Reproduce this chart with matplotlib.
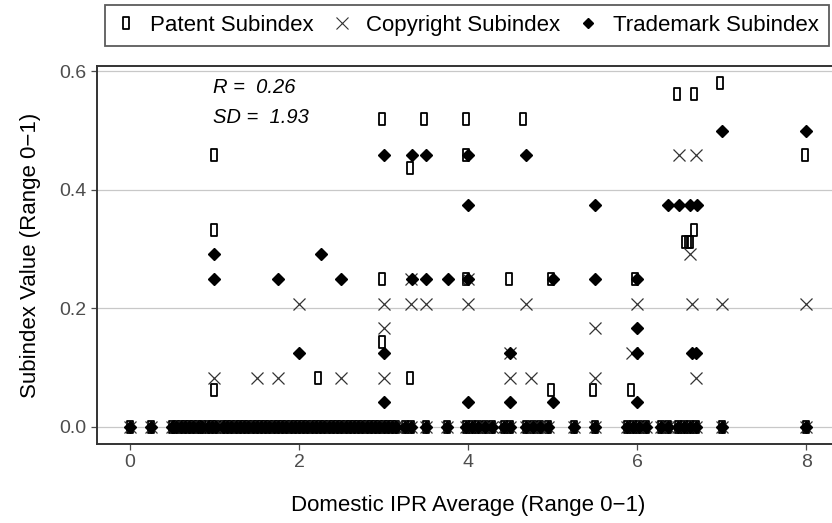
import matplotlib
matplotlib.use("Agg")
import matplotlib.pyplot as plt
from matplotlib.path import Path
from matplotlib.lines import Line2D

plt.rcParams["font.family"] = ["Liberation Sans", "DejaVu Sans"]

# =====================================================
# DATA
# =====================================================

# countries sitting at zero on all three subindices
zero_x = [0.0, 0.25, 0.5, 0.55, 0.6, 0.65, 0.7, 0.75, 0.8, 0.85, 0.92, 0.97,
          1.02, 1.1, 1.15, 1.2, 1.25, 1.3, 1.35, 1.4, 1.45, 1.5, 1.55, 1.6,
          1.65, 1.7, 1.75, 1.8, 1.85, 1.9, 1.95, 2.0, 2.05, 2.1, 2.15, 2.2,
          2.25, 2.3, 2.35, 2.4, 2.45, 2.5, 2.55, 2.6, 2.65, 2.7, 2.75, 2.8,
          2.85, 2.9, 2.95, 3.0, 3.05, 3.1, 3.15, 3.25, 3.33, 3.5, 3.75, 3.98,
          4.05, 4.12, 4.2, 4.28, 4.42, 4.5, 4.68, 4.77, 4.85, 4.95, 5.25, 5.5,
          5.88, 5.95, 6.02, 6.1, 6.28, 6.37, 6.48, 6.55, 6.62, 6.7, 7.0, 8.0]

patent_x = [1.0, 1.0, 1.0, 2.22, 2.98, 2.98, 2.98, 3.31, 3.31, 3.48, 3.98,
            3.98, 3.98, 4.48, 4.65, 4.98, 4.98, 5.48, 5.93, 5.97, 6.47, 6.67,
            6.98, 6.67, 6.57, 6.6, 6.62, 7.99]
patent_y = [0.458, 0.333, 0.0625, 0.083, 0.519, 0.25, 0.143, 0.436, 0.083,
            0.519, 0.519, 0.458, 0.25, 0.25, 0.519, 0.25, 0.0625, 0.0625,
            0.0625, 0.25, 0.561, 0.561, 0.581, 0.333, 0.3125, 0.3125, 0.3125,
            0.458]

copyright_x = [1.0, 1.5, 1.75, 2.0, 2.5, 3.0, 3.0, 3.0, 3.33, 3.33, 3.5, 4.0,
               4.0, 4.5, 4.5, 4.68, 4.75, 5.5, 5.5, 5.94, 6.0, 6.5, 6.7, 6.62,
               6.65, 6.7, 7.0, 8.0]
copyright_y = [0.083, 0.083, 0.083, 0.208, 0.083, 0.208, 0.167, 0.083, 0.208,
               0.25, 0.208, 0.208, 0.25, 0.125, 0.083, 0.208, 0.083, 0.167,
               0.083, 0.125, 0.208, 0.458, 0.458, 0.292, 0.208, 0.083, 0.208,
               0.208]

trademark_x = [1.0, 1.0, 1.75, 2.0, 2.26, 2.5, 3.0, 3.0, 3.0, 3.34, 3.34, 3.5,
               3.5, 3.76, 4.0, 4.0, 4.0, 4.0, 4.5, 4.5, 4.68, 5.0, 5.0, 5.5,
               5.5, 6.0, 6.0, 6.0, 6.0, 6.37, 6.5, 6.62, 6.71, 6.65, 6.7, 7.0,
               8.0]
trademark_y = [0.292, 0.25, 0.25, 0.125, 0.292, 0.25, 0.458, 0.125, 0.042,
               0.458, 0.25, 0.458, 0.25, 0.25, 0.458, 0.375, 0.25, 0.042,
               0.125, 0.042, 0.458, 0.25, 0.042, 0.375, 0.25, 0.25, 0.167,
               0.125, 0.042, 0.375, 0.375, 0.375, 0.375, 0.125, 0.125, 0.5,
               0.5]

r_value = 0.26
sd_value = 1.93

# =====================================================
# PLOT
# =====================================================

# tall narrow open rectangle for the patent marker
rect_marker = Path([(-0.27, -0.5), (0.27, -0.5), (0.27, 0.5), (-0.27, 0.5),
                    (-0.27, -0.5)],
                   [Path.MOVETO, Path.LINETO, Path.LINETO, Path.LINETO,
                    Path.CLOSEPOLY])

fig = plt.figure(figsize=(8.32, 5.23), dpi=100)
ax = fig.add_axes([97 / 832, 1 - 444 / 523, (840 - 97) / 832, (444 - 66) / 523])

ax.plot(patent_x + zero_x, patent_y + [0] * len(zero_x), linestyle="none",
        marker=rect_marker, markersize=8, markerfacecolor="none",
        markeredgecolor="black", markeredgewidth=1.3)
ax.plot(copyright_x + zero_x, copyright_y + [0] * len(zero_x), linestyle="none",
        marker="x", markersize=8, color="#333333", markeredgewidth=0.9)
ax.plot(trademark_x + zero_x, trademark_y + [0] * len(zero_x), linestyle="none",
        marker="D", markersize=6.3, color="black")

ax.text(0.98, 0.573, f"R =  {r_value:.2f}", style="italic", fontsize=14.5,
        va="center", ha="left")
ax.text(0.98, 0.522, f"SD =  {sd_value:.2f}", style="italic", fontsize=14.5,
        va="center", ha="left")

ax.set_xlim(-0.39, 8.4)
ax.set_ylim(-0.029, 0.609)
ax.set_xticks([0, 2, 4, 6, 8])
ax.set_yticks([0.0, 0.2, 0.4, 0.6])
ax.set_yticklabels(["0.0", "0.2", "0.4", "0.6"])
ax.yaxis.grid(True, color="#c8c8c8", linewidth=0.9)
ax.set_axisbelow(True)

for side in ["left", "bottom", "top", "right"]:
    ax.spines[side].set_color("#333333")
    ax.spines[side].set_linewidth(1.4)

ax.tick_params(axis="both", colors="#4d4d4d", labelsize=14, length=4,
               width=0.9, labelcolor="#4d4d4d")

ax.set_xlabel("Domestic IPR Average (Range 0\u22121)", fontsize=16,
              labelpad=17)
ax.set_ylabel("Subindex Value (Range 0\u22121)", fontsize=16, labelpad=13)

handles = [
    Line2D([], [], linestyle="none", marker=rect_marker, markersize=8,
           markerfacecolor="none", markeredgecolor="black",
           markeredgewidth=1.3),
    Line2D([], [], linestyle="none", marker="x", markersize=8,
           color="#333333", markeredgewidth=0.8),
    Line2D([], [], linestyle="none", marker="D", markersize=5,
           color="black"),
]
leg = fig.legend(handles, ["Patent Subindex", "Copyright Subindex",
                           "Trademark Subindex"],
                 loc="upper center", bbox_to_anchor=(0.561, 1.012), ncol=3,
                 fontsize=16, frameon=True, fancybox=False,
                 handlelength=1.0, handletextpad=0.6, columnspacing=0.75,
                 borderpad=0.45)
leg.get_frame().set_edgecolor("#333333")
leg.get_frame().set_linewidth(1.3)

fig.savefig("out.png", dpi=100)
